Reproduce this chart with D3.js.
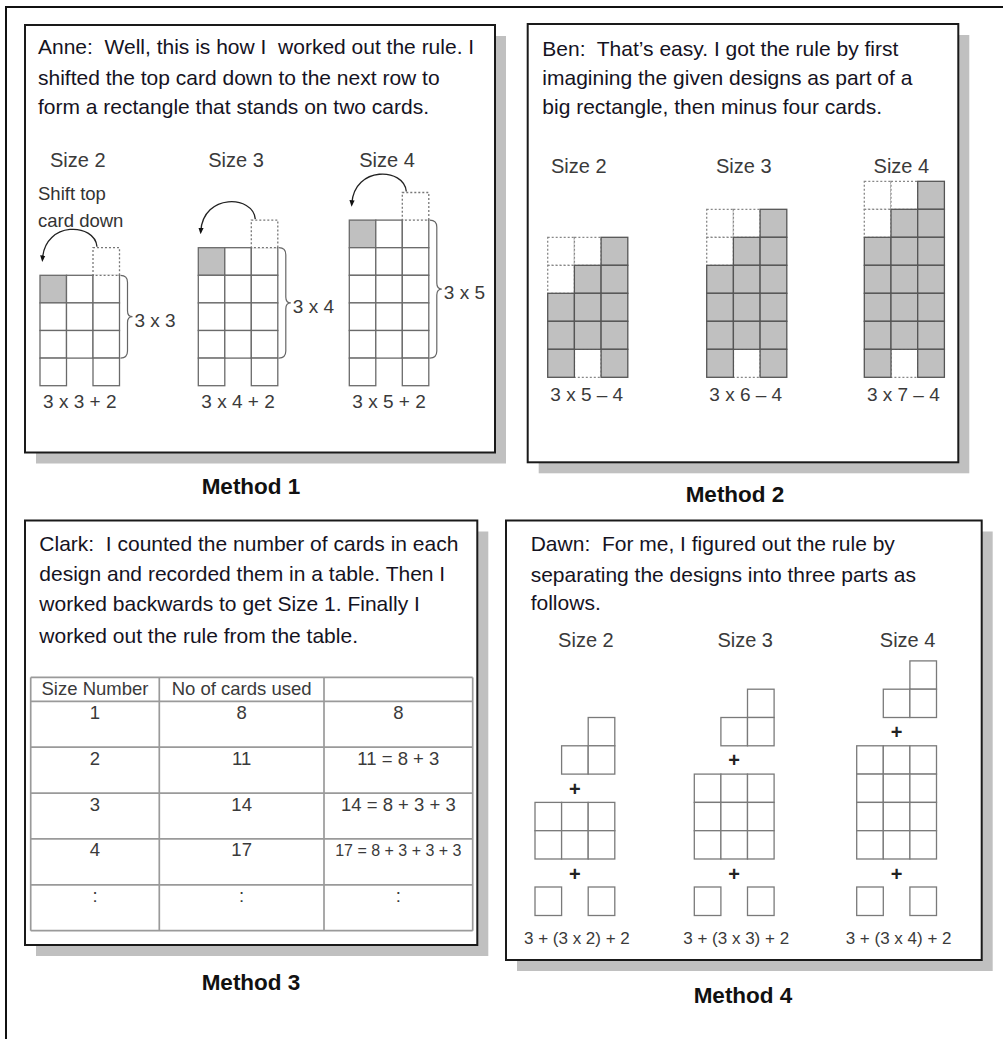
<!DOCTYPE html>
<html><head><meta charset="utf-8">
<script src="https://cdn.jsdelivr.net/npm/d3@7"></script>
<style>
html,body{margin:0;padding:0;background:#fff;}
svg{display:block;font-family:"Liberation Sans",Arial,sans-serif;}
text{white-space:pre;}
</style></head><body>
<svg id="chart" width="1003" height="1039"></svg>
<script>
// ---------- data ----------
const sizes = [2, 3, 4];
const sizeLabels = ["Size 2", "Size 3", "Size 4"];
const methodLabels = ["Method 1", "Method 2", "Method 3", "Method 4"];
const anneLines = ["Anne:  Well, this is how I  worked out the rule. I",
                   "shifted the top card down to the next row to",
                   "form a rectangle that stands on two cards."];
const benLines = ["Ben:  That\u2019s easy. I got the rule by first",
                  "imagining the given designs as part of a",
                  "big rectangle, then minus four cards."];
const clarkLines = ["Clark:  I counted the number of cards in each",
                    "design and recorded them in a table. Then I",
                    "worked backwards to get Size 1. Finally I",
                    "worked out the rule from the table."];
const dawnLines = ["Dawn:  For me, I figured out the rule by",
                   "separating the designs into three parts as",
                   "follows."];
const shiftNote = ["Shift top", "card down"];
const m1BraceLabels = ["3 x 3", "3 x 4", "3 x 5"];
const m1Formulas = ["3 x 3 + 2", "3 x 4 + 2", "3 x 5 + 2"];
const m2Formulas = ["3 x 5 \u2013 4", "3 x 6 \u2013 4", "3 x 7 \u2013 4"];
const m4Formulas = ["3 + (3 x 2) + 2", "3 + (3 x 3) + 2", "3 + (3 x 4) + 2"];
const tableHeaders = ["Size Number", "No of cards used", ""];
const tableSizes = ["1", "2", "3", "4", ":"];
const tableCards = ["8", "11", "14", "17", ":"];
const tableExpr = ["8", "11 = 8 + 3", "14 = 8 + 3 + 3", "17 = 8 + 3 + 3 + 3", ":"];

// ---------- drawing ----------
const svg = d3.select("#chart");
svg.append("rect").attr("width", 1003).attr("height", 1039).attr("fill", "#fff");
svg.append("rect").attr("x", 6).attr("y", 7).attr("width", 1300).attr("height", 1300)
  .attr("fill", "none").attr("stroke", "#111").attr("stroke-width", 2);

const defs = svg.append("defs");
defs.append("marker").attr("id", "ah").attr("viewBox", "0 0 10 10").attr("refX", 5).attr("refY", 5)
  .attr("markerWidth", 5).attr("markerHeight", 5).attr("orient", "auto")
  .append("path").attr("d", "M0,1 L10,5 L0,9 Z").attr("fill", "#111");

const panels = [
  {x0: 25, y0: 25, x1: 495, y1: 452.5},
  {x0: 527.7, y0: 24, x1: 958.3, y1: 462.3},
  {x0: 25, y0: 520.5, x1: 477.3, y1: 945},
  {x0: 506, y0: 520.5, x1: 981.7, y1: 960}
];
const shadowOff = 11;
svg.selectAll("rect.shadow").data(panels).join("rect").attr("class", "shadow")
  .attr("x", d => d.x0 + shadowOff).attr("y", d => d.y0 + shadowOff)
  .attr("width", d => d.x1 - d.x0).attr("height", d => d.y1 - d.y0).attr("fill", "#c0c0c0");
svg.selectAll("rect.panel").data(panels).join("rect").attr("class", "panel")
  .attr("x", d => d.x0).attr("y", d => d.y0)
  .attr("width", d => d.x1 - d.x0).attr("height", d => d.y1 - d.y0)
  .attr("fill", "#fff").attr("stroke", "#1a1a1a").attr("stroke-width", 2);

// method labels
const methodPos = [[251, 494], [735, 502], [251, 990], [743, 1003]];
svg.selectAll("text.method").data(methodLabels).join("text").attr("class", "method")
  .attr("x", (d, i) => methodPos[i][0]).attr("y", (d, i) => methodPos[i][1])
  .attr("text-anchor", "middle").attr("font-weight", "bold").attr("font-size", 22.5)
  .attr("fill", "#111").text(d => d);

function para(lines, x, ys) {
  svg.append("g").selectAll("text").data(lines).join("text")
    .attr("x", x).attr("y", (d, i) => ys[i]).attr("font-size", 21).attr("fill", "#15131f")
    .text(d => d);
}
para(anneLines, 38, [54, 84.5, 113.5]);
para(benLines, 542.3, [56, 85, 113.5]);
para(clarkLines, 39.3, [551, 581, 611, 643]);
para(dawnLines, 530.7, [550.5, 581.5, 610]);

function label(g, txt, x, y, size, anchor) {
  g.append("text").attr("x", x).attr("y", y).attr("font-size", size)
    .attr("text-anchor", anchor || "middle").attr("fill", "#3a3a3a").text(txt);
}
function bracePath(x0, y0, y1) {
  const xm = x0 + 7, xt = x0 + 12, mid = (y0 + y1) / 2;
  return `M${x0},${y0} Q${xm},${y0} ${xm},${y0 + 7} L${xm},${mid - 6} Q${xm},${mid} ${xt},${mid}` +
         ` Q${xm},${mid} ${xm},${mid + 6} L${xm},${y1 - 7} Q${xm},${y1} ${x0},${y1}`;
}

// ---------- Method 1 ----------
const g1 = svg.append("g");
g1.selectAll("text.note").data(shiftNote).join("text").attr("class", "note")
  .attr("x", 38).attr("y", (d, i) => [200, 226.5][i]).attr("font-size", 18.5)
  .attr("fill", "#333").text(d => d);
const m1Lefts = [40, 198.3, 349.3];
sizes.forEach((n, i) => {
  const cw = 26.5, ch = 27.6, bottom = 385.7;
  const x = d3.scaleLinear().domain([0, 3]).range([m1Lefts[i], m1Lefts[i] + 3 * cw]);
  const y = d3.scaleLinear().domain([0, n + 2]).range([bottom - (n + 2) * ch, bottom]);
  const cells = [];
  for (let r = 0; r <= n; r++) for (let c = 0; c < 3; c++) cells.push({r, c, shade: r === 0 && c === 0});
  cells.push({r: n + 1, c: 0}, {r: n + 1, c: 2});
  g1.append("g").selectAll("rect").data(cells).join("rect")
    .attr("x", d => x(d.c)).attr("y", d => y(d.r))
    .attr("width", x(1) - x(0)).attr("height", y(1) - y(0))
    .attr("fill", d => d.shade ? "#c0c0c0" : "#fff").attr("stroke", "#6a6a6a").attr("stroke-width", 1.3);
  // dotted original top card
  g1.append("line").attr("x1", x(2) + 1).attr("x2", x(3) - 1).attr("y1", y(0)).attr("y2", y(0))
    .attr("stroke", "#fff").attr("stroke-width", 2);
  g1.append("rect").attr("x", x(2)).attr("y", y(-1)).attr("width", x(1) - x(0)).attr("height", y(1) - y(0))
    .attr("fill", "none").attr("stroke", "#777").attr("stroke-width", 1.3).attr("stroke-dasharray", "2,2");
  // arrow
  const T = y(-1);
  g1.append("path")
    .attr("d", `M${x(2) + 4},${T - 1} C${x(2) + 2},${T - 25} ${x(0) + 5},${T - 27} ${x(0) + 2.5},${T + 11}`)
    .attr("fill", "none").attr("stroke", "#222").attr("stroke-width", 1.3).attr("marker-end", "url(#ah)");
  // brace
  g1.append("path").attr("d", bracePath(x(3) + 1, y(0), y(n + 1)))
    .attr("fill", "none").attr("stroke", "#666").attr("stroke-width", 1.2);
  label(g1, m1BraceLabels[i], x(3) + 15, (y(0) + y(n + 1)) / 2 + 10, 19, "start");
  label(g1, sizeLabels[i], x(1.5) - 2, 167, 20);
  label(g1, m1Formulas[i], x(1.5), 408, 19);
});

// ---------- Method 2 ----------
const g2 = svg.append("g");
const m2Lefts = [547.7, 706.7, 864.3];
sizes.forEach((n, i) => {
  const cw = 26.7, ch = 28, bottom = 377.3, rows = n + 3;
  const x = d3.scaleLinear().domain([0, 3]).range([m2Lefts[i], m2Lefts[i] + 3 * cw]);
  const y = d3.scaleLinear().domain([0, rows]).range([bottom - rows * ch, bottom]);
  const removed = [[0, 0], [0, 1], [1, 0], [rows - 1, 1]];
  const cells = [];
  for (let r = 0; r < rows; r++) for (let c = 0; c < 3; c++)
    cells.push({r, c, out: removed.some(p => p[0] === r && p[1] === c)});
  const g = g2.append("g");
  g.selectAll("rect.out").data(cells.filter(d => d.out)).join("rect").attr("class", "out")
    .attr("x", d => x(d.c)).attr("y", d => y(d.r)).attr("width", x(1) - x(0)).attr("height", y(1) - y(0))
    .attr("fill", "#fff").attr("stroke", "#888").attr("stroke-width", 1.3).attr("stroke-dasharray", "2,2");
  g.selectAll("rect.in").data(cells.filter(d => !d.out)).join("rect").attr("class", "in")
    .attr("x", d => x(d.c)).attr("y", d => y(d.r)).attr("width", x(1) - x(0)).attr("height", y(1) - y(0))
    .attr("fill", "#c0c0c0").attr("stroke", "#555").attr("stroke-width", 1.3);
  label(g2, sizeLabels[i], x(1.5) - (i === 0 ? 9 : 3), 172.5, 20);
  label(g2, m2Formulas[i], x(1.5) - 1, 401, 19);
});

// ---------- Method 3 (table) ----------
const g3 = svg.append("g");
const colEdges = [30.7, 159.3, 324, 472.7];
const tableTop = 677.4, headerBottom = 701.3, tableBottom = 930.7;
const ry = d3.scaleLinear().domain([0, tableSizes.length]).range([headerBottom, tableBottom]);
const hLines = [tableTop, ...d3.range(tableSizes.length + 1).map(k => ry(k))];
g3.selectAll("line.h").data(hLines).join("line").attr("class", "h")
  .attr("x1", colEdges[0]).attr("x2", colEdges[3]).attr("y1", d => d).attr("y2", d => d)
  .attr("stroke", "#9a9a9a").attr("stroke-width", 1.7);
g3.selectAll("line.v").data(colEdges).join("line").attr("class", "v")
  .attr("x1", d => d).attr("x2", d => d).attr("y1", tableTop).attr("y2", tableBottom)
  .attr("stroke", "#9a9a9a").attr("stroke-width", 1.7);
const colC = d3.range(3).map(k => (colEdges[k] + colEdges[k + 1]) / 2);
tableHeaders.forEach((h, k) => label(g3, h, colC[k], tableTop + 18, 18.5));
[tableSizes, tableCards, tableExpr].forEach((col, k) => {
  col.forEach((v, r) => {
    const fs = v.length > 15 ? 16 : 18.5;
    label(g3, v, colC[k], ry(r) + 17.5, fs);
  });
});

// ---------- Method 4 ----------
const g4 = svg.append("g");
const m4Lefts = [535, 694.3, 856.7];
sizes.forEach((n, i) => {
  const cw = 26.6, ch = 28.3, midBottom = 859;
  const x = d3.scaleLinear().domain([0, 3]).range([m4Lefts[i], m4Lefts[i] + 3 * cw]);
  const y = d3.scaleLinear().domain([0, n]).range([midBottom - n * ch, midBottom]);
  const midTop = y(0);
  const cells = [];
  // top L piece (2 rows above the "+")
  cells.push({c: 2, r: -3}, {c: 1, r: -2}, {c: 2, r: -2});
  for (let r = 0; r < n; r++) for (let c = 0; c < 3; c++) cells.push({c, r});
  const topShift = -ch;  // gap row for "+"
  g4.append("g").selectAll("rect").data(cells).join("rect")
    .attr("x", d => x(d.c)).attr("y", d => d.r < 0 ? y(d.r + 1) + topShift : y(d.r))
    .attr("width", x(1) - x(0)).attr("height", ch)
    .attr("fill", "#fff").attr("stroke", "#7a7a7a").attr("stroke-width", 1.3);
  // two single cards
  g4.append("g").selectAll("rect").data([0, 2]).join("rect")
    .attr("x", c => x(c)).attr("y", 887).attr("width", x(1) - x(0)).attr("height", 28.5)
    .attr("fill", "#fff").attr("stroke", "#7a7a7a").attr("stroke-width", 1.3);
  g4.selectAll(null).data([midTop - 14, 873.5]).join("text")
    .attr("x", x(1.5)).attr("y", d => d).attr("dy", "0.36em").attr("text-anchor", "middle")
    .attr("font-weight", "bold").attr("font-size", 20).attr("fill", "#222").text("+");
  label(g4, sizeLabels[i], x(1.5) + 11, 646.5, 20);
  label(g4, m4Formulas[i], x(1.5) + 2, 943.5, 17);
});
</script>
</body></html>
